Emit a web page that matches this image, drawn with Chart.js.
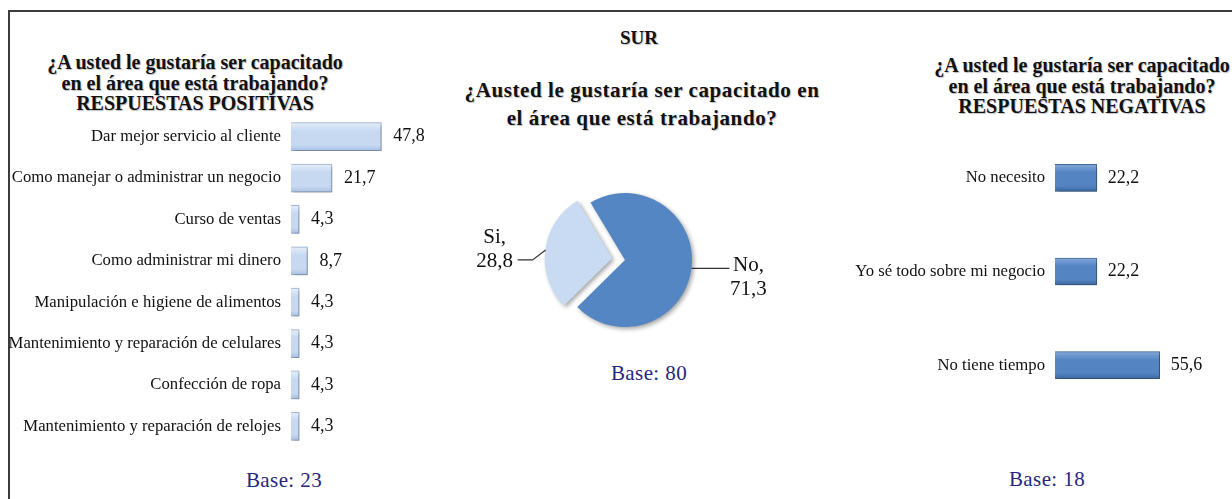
<!DOCTYPE html>
<html lang="es">
<head>
<meta charset="utf-8">
<title>SUR</title>
<script src="https://cdn.jsdelivr.net/npm/chart.js@4.4.1/dist/chart.umd.min.js"></script>
<style>
    body {
        margin: 0;
        width: 1232px;
        height: 499px;
        overflow: hidden;
        position: relative;
        background: #fff;
        font-family: "Liberation Serif", "Times New Roman", serif;
        color: #111;
    }
    .marco {
        position: absolute;
        left: 8px;
        top: 10px;
        width: 1400px;
        height: 700px;
        border-left: 2px solid #3c3c3c;
        border-top: 2px solid #3c3c3c;
    }
    .titulo {
        position: absolute;
        font-weight: bold;
        text-align: center;
        white-space: nowrap;
        transform: translateX(-50%);
        text-shadow: 1px 1px 1px rgba(0, 0, 0, 0.25);
    }
    .base {
        position: absolute;
        font-size: 21px;
        letter-spacing: 0.4px;
        color: #26267f;
        white-space: nowrap;
        transform: translate(-50%, -50%);
    }
    .grafico {
        position: absolute;
    }
</style>
</head>
<body>
<div class="marco"></div>

<div class="titulo" style="left:195px; top:52px; font-size:20px; line-height:20.5px;">
    ¿A usted le gustaría ser capacitado<br>en el área que está trabajando?<br>RESPUESTAS POSITIVAS
</div>
<div class="titulo" style="left:639px; top:27px; font-size:19px; line-height:22px;">SUR</div>
<div class="titulo" style="left:642px; top:76px; font-size:21px; line-height:28px; letter-spacing:0.6px;">
    ¿Austed le gustaría ser capacitado en<br>el área que está trabajando?
</div>
<div class="titulo" style="left:1082px; top:55px; font-size:20px; line-height:20.5px;">
    ¿A usted le gustaría ser capacitado<br>en el área que está trabajando?<br>RESPUESTAS NEGATIVAS
</div>

<div class="grafico" style="left:8px; top:116px;"><canvas id="positivasChart" width="447" height="331"></canvas></div>
<div class="grafico" style="left:465px; top:170px;"><canvas id="sureChart" width="320" height="180"></canvas></div>
<div class="grafico" style="left:830px; top:131px;"><canvas id="negativasChart" width="402" height="281"></canvas></div>

<div class="base" style="left:284px; top:480px;">Base: 23</div>
<div class="base" style="left:649px; top:373px;">Base: 80</div>
<div class="base" style="left:1047px; top:479px;">Base: 18</div>

<script>
const positivasLabels = [
    'Dar mejor servicio al cliente',
    'Como manejar o administrar un negocio',
    'Curso de ventas',
    'Como administrar mi dinero',
    'Manipulación e higiene de alimentos',
    'Mantenimiento y reparación de celulares',
    'Confección de ropa',
    'Mantenimiento y reparación de relojes'
];
const positivasValores = [47.8, 21.7, 4.3, 8.7, 4.3, 4.3, 4.3, 4.3];

const pieLabels = ['No', 'Si'];
const pieValores = [71.3, 28.8];

const negativasLabels = ['No necesito', 'Yo sé todo sobre mi negocio', 'No tiene tiempo'];
const negativasValores = [22.2, 22.2, 55.6];

const fuente = '"Liberation Serif", "Times New Roman", serif';

function formato(v) {
    return v.toFixed(1).replace('.', ',');
}

// sombra suave debajo de barras y sectores
const sombra = {
    id: 'sombra',
    beforeDatasetsDraw(chart) {
        const c = chart.ctx;
        c.save();
        c.shadowColor = 'rgba(0, 0, 0, 0.35)';
        c.shadowBlur = 4;
        c.shadowOffsetX = 2;
        c.shadowOffsetY = 2;
    },
    afterDatasetsDraw(chart) {
        chart.ctx.restore();
    }
};

// valores a la derecha de cada barra
const valores = {
    id: 'valores',
    afterDatasetsDraw(chart, args, opts) {
        const c = chart.ctx;
        const meta = chart.getDatasetMeta(0);
        const datos = chart.data.datasets[0].data;
        c.save();
        c.font = '18px ' + fuente;
        c.fillStyle = '#111';
        c.textAlign = 'left';
        c.textBaseline = 'middle';
        meta.data.forEach((bar, i) => {
            c.fillText(formato(datos[i]), bar.x + opts.gap, bar.y);
        });
        c.restore();
    }
};

// etiquetas con línea guía para el pastel
const etiquetasPie = {
    id: 'etiquetasPie',
    afterDatasetsDraw(chart) {
        const c = chart.ctx;
        const meta = chart.getDatasetMeta(0);
        const datos = chart.data.datasets[0].data;
        c.save();
        c.font = '21px ' + fuente;
        c.fillStyle = '#111';
        c.strokeStyle = '#333';
        c.lineWidth = 1.2;
        c.textAlign = 'center';
        c.textBaseline = 'middle';
        meta.data.forEach((arc, i) => {
            const mid = (arc.startAngle + arc.endAngle) / 2;
            // chart.js desplaza el sector offset/4 px
            const r = arc.outerRadius + (arc.options.offset || 0) / 4;
            const x0 = arc.x + Math.cos(mid) * r;
            const y0 = arc.y + Math.sin(mid) * r;
            const izq = Math.cos(mid) < 0;
            const s = izq ? -1 : 1;
            const x1 = x0 + s * 13;
            const y1 = y0 + (izq ? 10 : 0);
            const x2 = x1 + s * (izq ? 15 : 25);
            c.beginPath();
            c.moveTo(x0, y0);
            c.lineTo(x1, y1);
            c.lineTo(x2, y1);
            c.stroke();
            const texto = [chart.data.labels[i] + ',', formato(datos[i])];
            if (izq) {
                c.fillText(texto[0], x2 - 23, y1 - 22);
                c.fillText(texto[1], x2 - 23, y1 + 2);
            } else {
                c.fillText(texto[0], x2 + 19, y1 - 3);
                c.fillText(texto[1], x2 + 19, y1 + 21);
            }
        });
        c.restore();
    }
};

function degradado(ctx, colores, alto) {
    const chart = ctx.chart;
    const escala = chart.scales.y;
    if (!escala || ctx.dataIndex === undefined) return colores[1];
    const yc = escala.getPixelForValue(ctx.dataIndex);
    if (!Number.isFinite(yc)) return colores[1];
    const g = chart.ctx.createLinearGradient(0, yc - alto / 2, 0, yc + alto / 2);
    g.addColorStop(0, colores[0]);
    g.addColorStop(0.3, colores[1]);
    g.addColorStop(0.8, colores[1]);
    g.addColorStop(1, colores[2]);
    return g;
}

function crearBarras(id, labels, datos, colores, borde, grosor, ancho, max, gap, derecha) {
    return new Chart(document.getElementById(id), {
        type: 'bar',
        data: {
            labels: labels,
            datasets: [{
                data: datos,
                backgroundColor: ctx => degradado(ctx, colores, grosor),
                borderColor: borde,
                borderWidth: 1,
                barThickness: grosor
            }]
        },
        options: {
            indexAxis: 'y',
            responsive: false,
            animation: false,
            layout: { padding: { left: 0, top: 0, bottom: 0, right: derecha } },
            scales: {
                x: { display: false, min: 0, max: max },
                y: {
                    grid: { display: false },
                    border: { display: false },
                    ticks: {
                        color: '#111',
                        padding: 2,
                        font: { family: fuente, size: 16.7 }
                    },
                    afterFit: scale => {
                        scale.width = ancho;
                        scale.paddingTop = 0;
                        scale.paddingBottom = 0;
                    }
                }
            },
            plugins: {
                legend: { display: false },
                tooltip: { enabled: false },
                valores: { gap: gap }
            }
        },
        plugins: [sombra, valores]
    });
}

crearBarras('positivasChart', positivasLabels, positivasValores,
    ['#e6eefa', '#c6d9f1', '#a8bfe0'], '#a3b9d8', 28, 283, 63, 12, 45);

crearBarras('negativasChart', negativasLabels, negativasValores,
    ['#84a8da', '#5584c3', '#3c679f'], '#41709f', 27, 225, 94, 11, 0);

new Chart(document.getElementById('sureChart'), {
    type: 'pie',
    data: {
        labels: pieLabels,
        datasets: [{
            data: pieValores,
            backgroundColor: ['#5586c4', '#c9dbf2'],
            borderWidth: 0,
            offset: [0, 52],
            rotation: -31,
            radius: 67
        }]
    },
    options: {
        responsive: false,
        animation: false,
        layout: { padding: 0 },
        plugins: {
            legend: { display: false },
            tooltip: { enabled: false }
        }
    },
    plugins: [sombra, etiquetasPie]
});
</script>
</body>
</html>
